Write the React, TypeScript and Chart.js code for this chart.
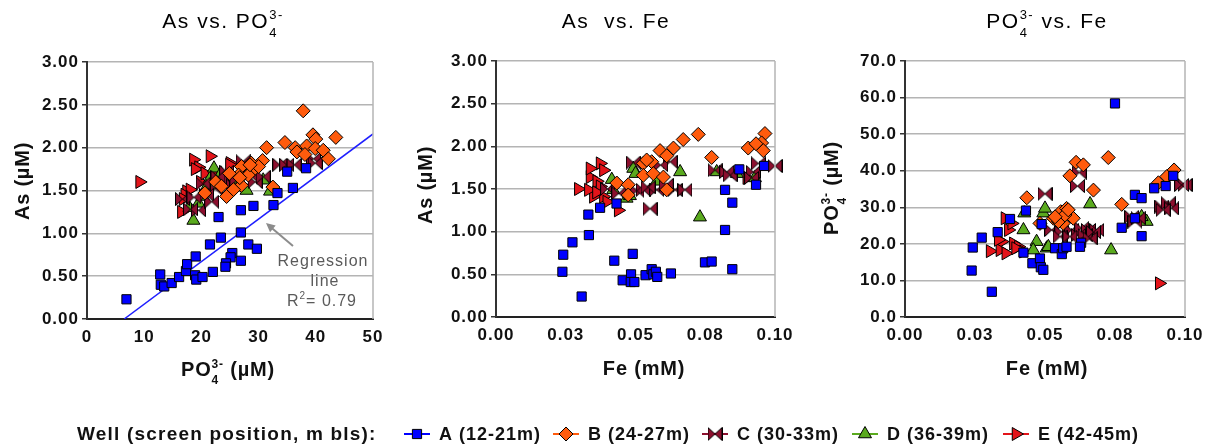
import React, { useEffect, useRef } from 'react';
import { Chart, registerables } from 'chart.js';

Chart.register(...registerables);

const W = 1208;
const H = 448;
const FONT = '"Liberation Sans", Arial, Helvetica, sans-serif';

// ---------- labels / ticks ----------
const wellLabels = ['A (12-21m)', 'B (24-27m)', 'C (30-33m)', 'D (36-39m)', 'E (42-45m)'];
const legendTitle = 'Well (screen position, m bls):';
const wellColors = ['#0000ff', '#ff5b0d', '#8c0f2e', '#5aaa1e', '#e3141a'];

const po4XTicks = [0, 10, 20, 30, 40, 50];
const asYTicks = [0, 0.5, 1, 1.5, 2, 2.5, 3];
const feXTicks = [0, 0.025, 0.05, 0.075, 0.1];
const feXTickLabels = ['0.00', '0.03', '0.05', '0.08', '0.10'];
const po4YTicks = [0, 10, 20, 30, 40, 50, 60, 70];

// ---------- Panel 1: As (µM) vs PO4 (µM) ----------
const asPo4A = [[6.9,0.23],[12.8,0.52],[12.9,0.40],[13.5,0.38],[14.8,0.42],[16.1,0.49],[17.3,0.56],[17.5,0.64],[19.0,0.73],[18.9,0.51],[19.1,0.46],[20.2,0.49],[22.0,0.55],[21.5,0.87],[23.4,0.95],[25.4,0.77],[25.1,0.72],[24.3,0.65],[24.2,0.61],[26.9,0.68],[26.9,1.01],[28.2,0.87],[29.7,0.82],[23.0,1.19],[26.9,1.27],[29.1,1.32],[32.6,1.33],[33.3,1.47],[36.0,1.53],[35.0,1.72],[38.3,1.76]];
const asPo4B = [[37.8,2.43],[43.5,2.12],[39.5,2.15],[40.0,2.10],[34.6,2.06],[31.4,2.00],[36.4,2.00],[38.4,2.02],[36.7,1.95],[39.9,1.99],[41.3,1.97],[42.2,1.87],[38.1,1.92],[30.7,1.85],[28.7,1.82],[27.0,1.78],[29.1,1.74],[26.5,1.68],[24.9,1.70],[27.0,1.56],[25.6,1.51],[24.4,1.43],[20.6,1.47],[32.5,1.54],[28.2,1.68],[30.0,1.78],[28.5,1.80],[26.7,1.65],[22.5,1.60],[23.5,1.55]];
const asPo4C = [[33.7,1.80],[34.9,1.80],[36.2,1.80],[39.6,1.87],[39.9,1.82],[23.5,1.62],[22.4,1.52],[20.9,1.45],[19.5,1.27],[21.8,1.37],[25.6,1.56],[29.4,1.60],[24.4,1.72],[27.3,1.84],[28.5,1.68],[30.8,1.66],[18.1,1.28],[16.7,1.40],[26.2,1.62],[27.5,1.72],[22.9,1.66],[18.7,1.42],[20.3,1.58]];
const asPo4D = [[18.6,1.15],[19.5,1.35],[21.5,1.64],[22.2,1.76],[27.9,1.50],[32.0,1.49],[30.8,1.62],[20.9,1.54],[20.3,1.43],[23.4,1.70],[26.5,1.60],[17.9,1.30]];
const asPo4E = [[9.2,1.60],[18.6,1.86],[21.5,1.90],[19.5,1.77],[25.0,1.82],[17.4,1.49],[16.5,1.25],[17.1,1.45],[18.0,1.51],[18.9,1.75],[16.8,1.40],[19.8,1.60],[20.6,1.70],[24.9,1.80],[22.3,1.68]];
const regressionLine = [[6.5, 0], [50, 2.16]];

// ---------- Panel 2: As (µM) vs Fe (mM) ----------
const asFeA = [[0.0238,0.53],[0.0241,0.73],[0.0274,0.875],[0.0307,0.24],[0.0331,1.20],[0.0333,0.96],[0.0373,1.28],[0.0424,0.66],[0.0432,1.33],[0.0454,0.43],[0.0484,0.50],[0.0483,0.41],[0.0496,0.41],[0.0490,0.74],[0.0536,0.49],[0.0558,0.56],[0.0564,0.50],[0.0573,0.53],[0.0578,0.47],[0.0627,0.51],[0.0749,0.64],[0.0773,0.65],[0.0821,1.02],[0.0821,1.49],[0.0847,1.34],[0.0847,0.56],[0.0932,1.55],[0.0872,1.73],[0.0961,1.77]];
const asFeB = [[0.0725,2.14],[0.0671,2.08],[0.0636,1.98],[0.0588,1.95],[0.0612,1.89],[0.0964,2.15],[0.0952,2.04],[0.0904,1.98],[0.0932,2.03],[0.0958,1.95],[0.0773,1.87],[0.0528,1.80],[0.0558,1.82],[0.0528,1.66],[0.0564,1.68],[0.0600,1.64],[0.0433,1.57],[0.0474,1.55],[0.0612,1.49],[0.0474,1.43],[0.0540,1.84]];
const asFeC = [[0.0492,1.81],[0.0624,1.82],[0.0528,1.49],[0.0576,1.49],[0.0642,1.49],[0.0677,1.49],[0.0552,1.27],[0.0785,1.72],[0.0827,1.70],[0.0922,1.70],[0.1000,1.77],[0.0916,1.63],[0.0940,1.80],[0.0839,1.66],[0.0505,1.48],[0.0545,1.52],[0.0610,1.55],[0.0590,1.78],[0.0400,1.50],[0.0440,1.45]];
const asFeD = [[0.0731,1.17],[0.0660,1.70],[0.0492,1.74],[0.0420,1.49],[0.0468,1.39],[0.0576,1.59],[0.0791,1.70],[0.0863,1.68],[0.0928,1.63],[0.0415,1.61],[0.0500,1.68],[0.0480,1.42]];
const asFeE = [[0.0295,1.50],[0.0373,1.80],[0.0385,1.72],[0.0337,1.64],[0.0361,1.59],[0.0349,1.41],[0.0385,1.41],[0.0438,1.25],[0.0331,1.49],[0.0373,1.53],[0.0397,1.35],[0.0899,1.63],[0.0337,1.74],[0.0360,1.46]];

// ---------- Panel 3: PO4 (µM) vs Fe (mM) ----------
const po4FeA = [[0.0238,12.7],[0.0242,19.0],[0.0274,21.7],[0.0310,6.9],[0.0331,23.2],[0.0375,26.8],[0.0432,29.1],[0.0423,17.6],[0.0455,14.7],[0.0482,16.0],[0.0485,13.6],[0.0494,12.9],[0.0488,25.4],[0.0536,18.8],[0.0560,17.2],[0.0565,18.8],[0.0577,19.2],[0.0629,20.3],[0.0625,19.2],[0.0774,24.4],[0.0821,33.4],[0.0845,32.5],[0.0821,27.0],[0.0845,22.1],[0.0890,35.2],[0.0931,35.8],[0.0750,58.4],[0.0958,38.6]];
const po4FeB = [[0.0726,43.6],[0.0611,42.3],[0.0637,41.6],[0.0589,38.6],[0.0673,34.7],[0.0435,32.6],[0.0961,40.2],[0.0905,36.7],[0.0935,38.4],[0.0774,30.8],[0.0530,27.0],[0.0556,28.8],[0.0577,29.7],[0.0601,27.0],[0.0565,25.6],[0.0482,25.6],[0.0548,26.1],[0.0571,27.9],[0.0536,27.4],[0.0583,29.3]];
const po4FeC = [[0.0500,33.7],[0.0616,35.8],[0.1000,36.1],[0.0622,39.5],[0.0917,30.2],[0.0940,31.1],[0.0952,29.7],[0.0922,29.3],[0.0810,27.4],[0.0821,26.1],[0.0833,27.0],[0.0524,23.8],[0.0560,23.3],[0.0595,23.8],[0.0631,24.3],[0.0655,23.8],[0.0685,23.8],[0.0619,22.4],[0.0554,22.0],[0.0589,22.0],[0.0643,22.4],[0.0988,36.1],[0.0673,23.2],[0.0661,21.5]];
const po4FeD = [[0.0661,30.9],[0.0736,18.3],[0.0494,28.4],[0.0500,29.7],[0.0423,23.8],[0.0426,28.4],[0.0470,20.6],[0.0863,26.1],[0.0845,27.4],[0.0458,18.3],[0.0506,18.8],[0.0512,19.2]];
const po4FeE = [[0.0304,18.0],[0.0357,27.0],[0.0369,23.8],[0.0345,20.6],[0.0387,20.1],[0.0339,18.3],[0.0360,17.4],[0.0405,19.2],[0.0423,17.9],[0.0908,9.2],[0.0381,25.6],[0.0333,21.1],[0.0395,18.8]];

// ---------- markers ----------
function makeBowtie(w: number, h: number, fill: string): HTMLCanvasElement {
  const c = document.createElement('canvas');
  c.width = w;
  c.height = h;
  const g = c.getContext('2d') as CanvasRenderingContext2D;
  g.fillStyle = fill;
  g.strokeStyle = '#000';
  g.lineWidth = 1;
  const m = 0.5;
  g.beginPath();
  g.moveTo(m, m); g.lineTo(w / 2, h / 2); g.lineTo(m, h - m); g.closePath();
  g.moveTo(w - m, m); g.lineTo(w / 2, h / 2); g.lineTo(w - m, h - m); g.closePath();
  g.fill();
  g.stroke();
  return c;
}
const bowtie = makeBowtie(15, 14, wellColors[2]);
const markers: { style: any; radius: number; rotation: number }[] = [
  { style: 'rect', radius: 6.5, rotation: 0 },
  { style: 'rectRot', radius: 7, rotation: 0 },
  { style: bowtie, radius: 7, rotation: 0 },
  { style: 'triangle', radius: 7.5, rotation: 0 },
  { style: 'triangle', radius: 7.5, rotation: 90 },
];

// ---------- rich text ----------
type Seg = [string, number]; // 0 normal, 1 subscript, -1 superscript
function drawRich(ctx: any, segs: Seg[], x: number, y: number, o: { size: number; weight: string; color: string; spacing: number; align: 'center' | 'left'; rotate?: boolean }) {
  ctx.save();
  ctx.letterSpacing = o.spacing + 'px';
  const items: { t: string; x: number; dy: number; f: string }[] = [];
  let cx = 0;
  let i = 0;
  while (i < segs.length) {
    if (segs[i][1] === 0) {
      const f = `${o.weight} ${o.size}px ${FONT}`;
      ctx.font = f;
      items.push({ t: segs[i][0], x: cx, dy: 0, f });
      cx += ctx.measureText(segs[i][0]).width;
      i++;
    } else {
      const start = cx;
      let gw = 0;
      while (i < segs.length && segs[i][1] !== 0) {
        const s = Math.round(o.size * 0.6);
        const f = `${o.weight} ${s}px ${FONT}`;
        ctx.font = f;
        items.push({ t: segs[i][0], x: start, dy: segs[i][1] * o.size * 0.42, f });
        gw = Math.max(gw, ctx.measureText(segs[i][0]).width);
        i++;
      }
      cx = start + gw;
    }
  }
  const off = o.align === 'center' ? -cx / 2 : 0;
  ctx.translate(x, y);
  if (o.rotate) ctx.rotate(-Math.PI / 2);
  ctx.fillStyle = o.color;
  ctx.textBaseline = 'alphabetic';
  ctx.textAlign = 'left';
  for (const it of items) {
    ctx.font = it.f;
    ctx.fillText(it.t, off + it.x, it.dy);
  }
  ctx.restore();
}

function drawMarker(ctx: CanvasRenderingContext2D, i: number, x: number, y: number) {
  const m = markers[i];
  ctx.save();
  ctx.fillStyle = wellColors[i];
  ctx.strokeStyle = '#000';
  ctx.lineWidth = 1;
  if (typeof m.style !== 'string') {
    ctx.drawImage(m.style, x - m.style.width / 2, y - m.style.height / 2);
    ctx.restore();
    return;
  }
  const r = m.radius;
  ctx.beginPath();
  if (m.style === 'rect') {
    const s = r * Math.SQRT1_2;
    ctx.rect(x - s, y - s, 2 * s, 2 * s);
  } else if (m.style === 'rectRot') {
    ctx.moveTo(x - r, y); ctx.lineTo(x, y - r); ctx.lineTo(x + r, y); ctx.lineTo(x, y + r); ctx.closePath();
  } else {
    let a = (m.rotation * Math.PI) / 180;
    ctx.moveTo(x + Math.sin(a) * r, y - Math.cos(a) * r);
    a += (2 * Math.PI) / 3;
    ctx.lineTo(x + Math.sin(a) * r, y - Math.cos(a) * r);
    a += (2 * Math.PI) / 3;
    ctx.lineTo(x + Math.sin(a) * r, y - Math.cos(a) * r);
    ctx.closePath();
  }
  ctx.fill();
  ctx.stroke();
  ctx.restore();
}

const po4Label: Seg[] = [['PO', 0], ['4', 1], ['3-', -1]];
const titles: { segs: Seg[]; x: number; y: number }[] = [
  { segs: [['As vs. PO', 0], ['4', 1], ['3-', -1]], x: 223, y: 28 },
  { segs: [['As  vs. Fe', 0]], x: 616, y: 28 },
  { segs: [...po4Label, [' vs. Fe', 0]], x: 1047, y: 28 },
];
const xTitles: { segs: Seg[]; x: number; y: number }[] = [
  { segs: [...po4Label, [' (µM)', 0]], x: 228, y: 376 },
  { segs: [['Fe (mM)', 0]], x: 644, y: 375 },
  { segs: [['Fe (mM)', 0]], x: 1047, y: 375 },
];
const yTitles: { segs: Seg[]; x: number; y: number }[] = [
  { segs: [['As (µM)', 0]], x: 29, y: 181 },
  { segs: [['As (µM)', 0]], x: 432, y: 185 },
  { segs: [...po4Label, [' (µM)', 0]], x: 838, y: 188 },
];
const legendMarkerX = [417, 566, 715, 865, 1016];
const LEGEND_Y = 434;

const annotPlugin = {
  id: 'annot',
  afterDraw(chart: any) {
    const ctx = chart.ctx;
    for (const t of titles) drawRich(ctx, t.segs, t.x, t.y, { size: 21, weight: 'normal', color: '#000', spacing: 1.5, align: 'center' });
    for (const t of xTitles) drawRich(ctx, t.segs, t.x, t.y, { size: 20, weight: 'bold', color: '#111', spacing: 0.8, align: 'center' });
    for (const t of yTitles) drawRich(ctx, t.segs, t.x, t.y, { size: 20, weight: 'bold', color: '#111', spacing: 0.8, align: 'center', rotate: true });

    // regression annotation
    const g = { size: 16, weight: 'normal', color: '#5a5a5a', spacing: 1, align: 'center' as const };
    drawRich(ctx, [['Regression', 0]], 323, 266, g);
    drawRich(ctx, [['line', 0]], 325, 286, g);
    drawRich(ctx, [['R', 0], ['2', -1], ['= 0.79', 0]], 322, 306, g);
    ctx.save();
    ctx.strokeStyle = '#8c8c8c';
    ctx.fillStyle = '#8c8c8c';
    ctx.lineWidth = 2;
    const x0 = 293, y0 = 246, x1 = 266, y1 = 223;
    const ang = Math.atan2(y1 - y0, x1 - x0);
    ctx.beginPath();
    ctx.moveTo(x0, y0);
    ctx.lineTo(x1 - Math.cos(ang) * 6, y1 - Math.sin(ang) * 6);
    ctx.stroke();
    ctx.beginPath();
    ctx.moveTo(x1, y1);
    ctx.lineTo(x1 - Math.cos(ang - 0.45) * 10, y1 - Math.sin(ang - 0.45) * 10);
    ctx.lineTo(x1 - Math.cos(ang + 0.45) * 10, y1 - Math.sin(ang + 0.45) * 10);
    ctx.closePath();
    ctx.fill();
    ctx.restore();

    // legend
    drawRich(ctx, [[legendTitle, 0]], 77, LEGEND_Y + 6, { size: 19, weight: 'bold', color: '#111', spacing: 1.2, align: 'left' });
    legendMarkerX.forEach((mx, i) => {
      ctx.save();
      ctx.strokeStyle = wellColors[i];
      ctx.lineWidth = 2;
      ctx.beginPath();
      ctx.moveTo(mx - 13, LEGEND_Y);
      ctx.lineTo(mx + 13, LEGEND_Y);
      ctx.stroke();
      ctx.restore();
      drawMarker(ctx, i, mx, LEGEND_Y);
      drawRich(ctx, [[wellLabels[i], 0]], mx + 22, LEGEND_Y + 6, { size: 18, weight: 'bold', color: '#111', spacing: 1, align: 'left' });
    });
  },
};

const framePlugin = {
  id: 'frame',
  beforeDraw(chart: any) {
    chart.ctx.letterSpacing = '1px';
  },
  afterDraw(chart: any) {
    const a = chart.chartArea;
    const ctx = chart.ctx;
    ctx.save();
    ctx.strokeStyle = '#b4b4b4';
    ctx.lineWidth = 1.5;
    ctx.beginPath();
    ctx.moveTo(a.right, a.top);
    ctx.lineTo(a.right, a.bottom);
    ctx.stroke();
    ctx.restore();
  },
};

const Y_W = 60;
const X_H = 40;

type Panel = {
  area: { l: number; r: number; t: number; b: number };
  xMin: number; xMax: number; xTicks: number[]; xFmt: (v: number, i: number) => string;
  yMin: number; yMax: number; yTicks: number[]; yFmt: (v: number, i: number) => string;
  series: number[][][];
  regression?: number[][];
};

const panels: Panel[] = [
  {
    area: { l: 87, r: 373, t: 62, b: 319 },
    xMin: 0, xMax: 50, xTicks: po4XTicks, xFmt: (v) => String(v),
    yMin: 0, yMax: 3, yTicks: asYTicks, yFmt: (v) => v.toFixed(2),
    series: [asPo4A, asPo4B, asPo4C, asPo4D, asPo4E],
    regression: regressionLine,
  },
  {
    area: { l: 496, r: 775, t: 61, b: 317 },
    xMin: 0, xMax: 0.1, xTicks: feXTicks, xFmt: (_v, i) => feXTickLabels[i],
    yMin: 0, yMax: 3, yTicks: asYTicks, yFmt: (v) => v.toFixed(2),
    series: [asFeA, asFeB, asFeC, asFeD, asFeE],
  },
  {
    area: { l: 905, r: 1185, t: 61, b: 317 },
    xMin: 0, xMax: 0.1, xTicks: feXTicks, xFmt: (_v, i) => feXTickLabels[i],
    yMin: 0, yMax: 70, yTicks: po4YTicks, yFmt: (v) => v.toFixed(1),
    series: [po4FeA, po4FeB, po4FeC, po4FeD, po4FeE],
  },
];

function buildConfig(p: Panel, idx: number): any {
  const datasets: any[] = p.series.map((pts, i) => ({
    label: wellLabels[i],
    data: pts.map(([x, y]) => ({ x, y })),
    pointStyle: markers[i].style,
    rotation: markers[i].rotation,
    pointRadius: markers[i].radius,
    backgroundColor: wellColors[i],
    borderColor: '#000',
    borderWidth: 1,
    showLine: false,
    clip: false,
  }));
  if (p.regression) {
    datasets.push({
      label: 'Regression line',
      data: p.regression.map(([x, y]) => ({ x, y })),
      showLine: true,
      borderColor: '#1f1fff',
      borderWidth: 1.5,
      pointRadius: 0,
      fill: false,
    });
  }
  const tickFont = { family: FONT, size: 17, weight: 'bold' as const };
  return {
    type: 'scatter',
    data: { datasets },
    options: {
      animation: false,
      responsive: false,
      devicePixelRatio: 1,
      events: [],
      layout: {
        padding: {
          left: p.area.l - Y_W,
          top: p.area.t,
          right: W - p.area.r,
          bottom: H - p.area.b - X_H,
        },
      },
      plugins: { legend: { display: false }, tooltip: { enabled: false }, title: { display: false } },
      scales: {
        x: {
          type: 'linear',
          min: p.xMin,
          max: p.xMax,
          afterBuildTicks: (s: any) => { s.ticks = p.xTicks.map((v) => ({ value: v })); },
          afterFit: (s: any) => { s.height = X_H; s.paddingLeft = 0; s.paddingRight = 0; },
          grid: { display: false, drawTicks: false },
          border: { display: true, color: '#222', width: 2 },
          ticks: {
            font: tickFont, color: '#111', padding: 8, maxRotation: 0, autoSkip: false,
            callback: (v: number, i: number) => p.xFmt(v, i),
          },
        },
        y: {
          type: 'linear',
          min: p.yMin,
          max: p.yMax,
          afterBuildTicks: (s: any) => { s.ticks = p.yTicks.map((v) => ({ value: v })); },
          afterFit: (s: any) => { s.width = Y_W; s.paddingTop = 0; s.paddingBottom = 0; },
          grid: {
            color: (c: any) => (c.tick && c.tick.value === 0 ? '#222' : '#b4b4b4'),
            lineWidth: 1.5,
            drawTicks: true,
            tickLength: 5,
            tickColor: '#333',
          },
          border: { display: true, color: '#333', width: 2 },
          ticks: {
            font: tickFont, color: '#111', padding: 3, autoSkip: false,
            callback: (v: number, i: number) => p.yFmt(v, i),
          },
        },
      },
    },
    plugins: idx === 0 ? [framePlugin, annotPlugin] : [framePlugin],
  };
}

function PanelCanvas({ idx }: { idx: number }) {
  const ref = useRef<HTMLCanvasElement | null>(null);
  useEffect(() => {
    if (!ref.current) return;
    const chart = new Chart(ref.current, buildConfig(panels[idx], idx));
    return () => chart.destroy();
  }, [idx]);
  return (
    <canvas
      ref={ref}
      width={W}
      height={H}
      style={{ position: 'absolute', left: 0, top: 0, width: W, height: H }}
    />
  );
}

export default function App() {
  return (
    <div style={{ position: 'absolute', left: 0, top: 0, width: W, height: H, background: '#fff', overflow: 'hidden' }}>
      <PanelCanvas idx={0} />
      <PanelCanvas idx={1} />
      <PanelCanvas idx={2} />
    </div>
  );
}
